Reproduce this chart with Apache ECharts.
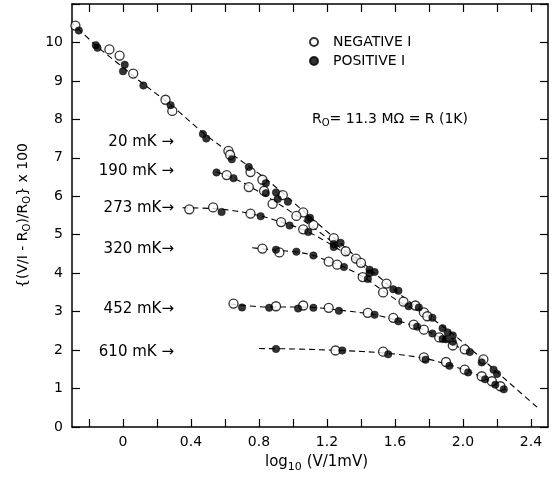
<!DOCTYPE html>
<html><head><meta charset="utf-8">
<script src="https://cdn.jsdelivr.net/npm/echarts@6/dist/echarts.min.js"></script>
<style>html,body{margin:0;padding:0;background:#fff}#c{width:553px;height:478px}</style>
</head><body><div id="c"></div>
<script>
// ---- tick values / labels ----
const xTickValues = [-0.2,0,0.2,0.4,0.6,0.8,1.0,1.2,1.4,1.6,1.8,2.0,2.2,2.4];
const xLabelValues = [0,0.4,0.8,1.2,1.6,2.0,2.4];
const xLabelTexts = ['0','0.4','0.8','1.2','1.6','2.0','2.4'];
const yLabelValues = [0,1,2,3,4,5,6,7,8,9,10];
const temperatures = ['20 mK','190 mK','273 mK','320 mK','452 mK','610 mK'];

// ---- data: [log10(V/1mV), {(V/I-R0)/R0} x 100] ----
const neg20 = [[-0.28,10.44],[-0.08,9.82],[-0.02,9.66],[0.06,9.19],[0.25,8.51],[0.29,8.22],[0.62,7.18],[0.63,7.08],[0.75,6.63],[0.82,6.43],[0.94,6.03],[1.06,5.58],[1.24,4.91],[1.31,4.57],[1.37,4.38],[1.40,4.27],[1.55,3.73],[1.65,3.26],[1.72,3.16],[1.77,2.98],[1.79,2.88],[2.01,2.02],[2.12,1.76]];
const pos20 = [[-0.26,10.31],[-0.16,9.93],[-0.15,9.86],[0.01,9.42],[0.0,9.25],[0.12,8.88],[0.28,8.37],[0.47,7.62],[0.49,7.50],[0.64,6.96],[0.74,6.76],[0.84,6.34],[0.90,6.10],[0.97,5.86],[1.10,5.44],[1.28,4.79],[1.45,4.09],[1.48,4.03],[1.59,3.58],[1.62,3.54],[1.68,3.14],[1.74,3.11],[1.82,2.84],[1.88,2.57],[1.91,2.46],[1.94,2.38],[1.90,2.28],[1.94,2.22],[2.04,1.95],[2.11,1.68],[2.18,1.49],[2.20,1.38]];
const curve20 = [[-0.31,10.55],[-0.16,9.93],[0,9.35],[0.12,8.92],[0.28,8.38],[0.48,7.62],[0.62,7.16],[0.84,6.45],[1.06,5.62],[1.24,4.93],[1.45,4.12],[1.6,3.55],[1.8,2.88],[1.94,2.42],[2.1,1.82],[2.2,1.43],[2.3,1.04],[2.44,0.5]];

const neg190 = [[0.61,6.55],[0.74,6.24],[0.83,6.14],[0.88,5.80],[1.02,5.49],[1.12,5.25]];
const pos190 = [[0.55,6.62],[0.65,6.47],[0.84,6.08],[0.91,5.93],[1.09,5.40],[1.24,4.76]];
const curve190 = [[0.55,6.64],[0.66,6.45],[0.76,6.22],[0.88,5.9],[1.02,5.5],[1.14,5.12],[1.26,4.72],[1.4,4.3]];

const neg273 = [[0.39,5.66],[0.53,5.71],[0.75,5.55],[0.93,5.33],[1.06,5.14]];
const pos273 = [[0.58,5.59],[0.81,5.48],[0.98,5.24],[1.09,5.07],[1.24,4.68],[1.45,4.00]];
const curve273 = [[0.35,5.7],[0.53,5.68],[0.75,5.55],[0.93,5.33],[1.09,5.07],[1.24,4.7],[1.36,4.35],[1.48,3.97]];

const neg320 = [[0.82,4.64],[0.92,4.54],[1.21,4.30],[1.26,4.22],[1.41,3.90],[1.53,3.50]];
const pos320 = [[0.90,4.61],[1.02,4.56],[1.12,4.46],[1.30,4.16],[1.44,3.85]];
const curve320 = [[0.76,4.66],[0.9,4.6],[1.02,4.55],[1.12,4.46],[1.21,4.31],[1.31,4.14],[1.42,3.88],[1.53,3.54],[1.64,3.22],[1.72,3.05]];

const neg452 = [[0.65,3.21],[0.90,3.14],[1.06,3.16],[1.21,3.10],[1.44,2.97],[1.59,2.84],[1.71,2.66],[1.77,2.53],[1.86,2.33],[1.94,2.12]];
const pos452 = [[0.70,3.11],[0.86,3.10],[1.03,3.08],[1.12,3.10],[1.27,3.02],[1.48,2.92],[1.62,2.75],[1.73,2.61],[1.82,2.43],[1.88,2.29]];
const curve452 = [[0.63,3.2],[0.86,3.12],[1.06,3.12],[1.27,3.04],[1.48,2.92],[1.62,2.76],[1.73,2.6],[1.82,2.43],[1.94,2.15],[2.05,1.92]];

const neg610 = [[1.25,1.99],[1.53,1.96],[1.77,1.81],[1.90,1.69],[2.01,1.49],[2.11,1.32],[2.17,1.19],[2.22,1.06]];
const pos610 = [[0.90,2.03],[1.29,1.99],[1.56,1.89],[1.78,1.75],[1.92,1.59],[2.03,1.42],[2.13,1.24],[2.19,1.10],[2.24,0.98]];
const curve610 = [[0.8,2.04],[1.0,2.03],[1.27,1.99],[1.55,1.92],[1.78,1.78],[1.92,1.61],[2.03,1.45],[2.12,1.28],[2.18,1.14],[2.25,0.96]];

const curves = [curve20, curve190, curve273, curve320, curve452, curve610];
const negAll = [].concat(neg20, neg190, neg273, neg320, neg452, neg610);
const posAll = [].concat(pos20, pos190, pos273, pos320, pos452, pos610);

// ---- chart ----
const FONT = 'DejaVu Sans';
const chart = echarts.init(document.getElementById('c'), null, {renderer: 'canvas'});
const axisLine = {show: true, onZero: false, lineStyle: {color: '#000', width: 1.5}};
const tickStyle = {color: '#000', width: 1.2};

const curveSeries = curves.map((c, i) => ({
  name: temperatures[i], type: 'line', data: c, smooth: 0.35, showSymbol: false,
  symbol: 'none', silent: true, z: 2,
  lineStyle: {color: '#000', width: 1.1, type: [6, 4]}
}));

// annotation labels at the left (pixel placement)
const annot = [
  {t: '20 mK →', y: 142}, {t: '190 mK →', y: 171}, {t: '273 mK→', y: 208},
  {t: '320 mK→', y: 249}, {t: '452 mK→', y: 309}, {t: '610 mK →', y: 352}
];

chart.setOption({
  animation: false,
  backgroundColor: '#fff',
  grid: {left: 72, right: 5, top: 4, bottom: 51, containLabel: false},
  xAxis: [{
    type: 'value', position: 'bottom', min: -0.3, max: 2.5,
    axisLine: axisLine, splitLine: {show: false},
    axisTick: {show: true, inside: true, length: 8, lineStyle: tickStyle, customValues: xTickValues},
    axisLabel: {show: true, margin: 8, color: '#000', fontFamily: FONT, fontSize: 14,
      customValues: xLabelValues,
      formatter: v => { const k = xLabelValues.findIndex(x => Math.abs(x - v) < 1e-6); return k >= 0 ? xLabelTexts[k] : ''; }}
  }, {
    type: 'value', position: 'top', min: -0.3, max: 2.5,
    axisLine: axisLine, splitLine: {show: false},
    axisTick: {show: true, inside: true, length: 8, lineStyle: tickStyle, customValues: xTickValues},
    axisLabel: {show: false}
  }],
  yAxis: [{
    type: 'value', position: 'left', min: 0, max: 11, interval: 1,
    axisLine: axisLine, splitLine: {show: false},
    axisTick: {show: true, inside: true, length: 8, lineStyle: tickStyle},
    axisLabel: {show: true, margin: 9, color: '#000', fontFamily: FONT, fontSize: 14,
      customValues: yLabelValues, formatter: v => String(v)},
    name: '{(V/I - R{s|O})/R{s|O}} x 100',
    nameLocation: 'middle', nameGap: 40, nameRotate: 90,
    nameTextStyle: {color: '#000', fontFamily: FONT, fontSize: 14,
      rich: {s: {fontSize: 10, fontFamily: FONT, color: '#000', padding: [8, 0, 0, 0]}}}
  }, {
    type: 'value', position: 'right', min: 0, max: 11, interval: 1,
    axisLine: axisLine, splitLine: {show: false},
    axisTick: {show: true, inside: true, length: 8, lineStyle: tickStyle},
    axisLabel: {show: false}
  }],
  legend: {
    orient: 'vertical', left: 304, top: 30, itemWidth: 8, itemHeight: 8, itemGap: 5,
    data: ['NEGATIVE I', 'POSITIVE I'], selectedMode: false,
    textStyle: {color: '#000', fontFamily: FONT, fontSize: 14, padding: [0, 0, 0, 10]}
  },
  series: curveSeries.concat([
    {name: 'NEGATIVE I', type: 'scatter', data: negAll, symbol: 'circle', symbolSize: 9, z: 3,
      itemStyle: {color: '#fff', borderColor: '#000', borderWidth: 1.3}},
    {name: 'POSITIVE I', type: 'scatter', data: posAll, symbol: 'circle', symbolSize: 7.5, z: 4,
      itemStyle: {color: '#000', borderColor: '#000', borderWidth: 0.5}}
  ]),
  graphic: [
    {type: 'text', left: 312, top: 112, style: {
      text: 'R{s|O}= 11.3 MΩ = R (1K)', fill: '#000', font: '14px "' + FONT + '"',
      rich: {s: {fontSize: 10, fontFamily: FONT, fill: '#000', padding: [9, 0, 0, 0]}}}},
    {type: 'text', left: 265, top: 455, style: {
      text: 'log{s|10} (V/1mV)', fill: '#000', font: '15px "' + FONT + '"',
      rich: {s: {fontSize: 11, fontFamily: FONT, fill: '#000', padding: [9, 0, 0, 0]}}}}
  ].concat(annot.map(a => ({
    type: 'text', x: 174, y: a.y,
    style: {text: a.t, fill: '#000', font: '15px "' + FONT + '"', align: 'right', verticalAlign: 'middle'}
  })))
});
</script></body></html>
